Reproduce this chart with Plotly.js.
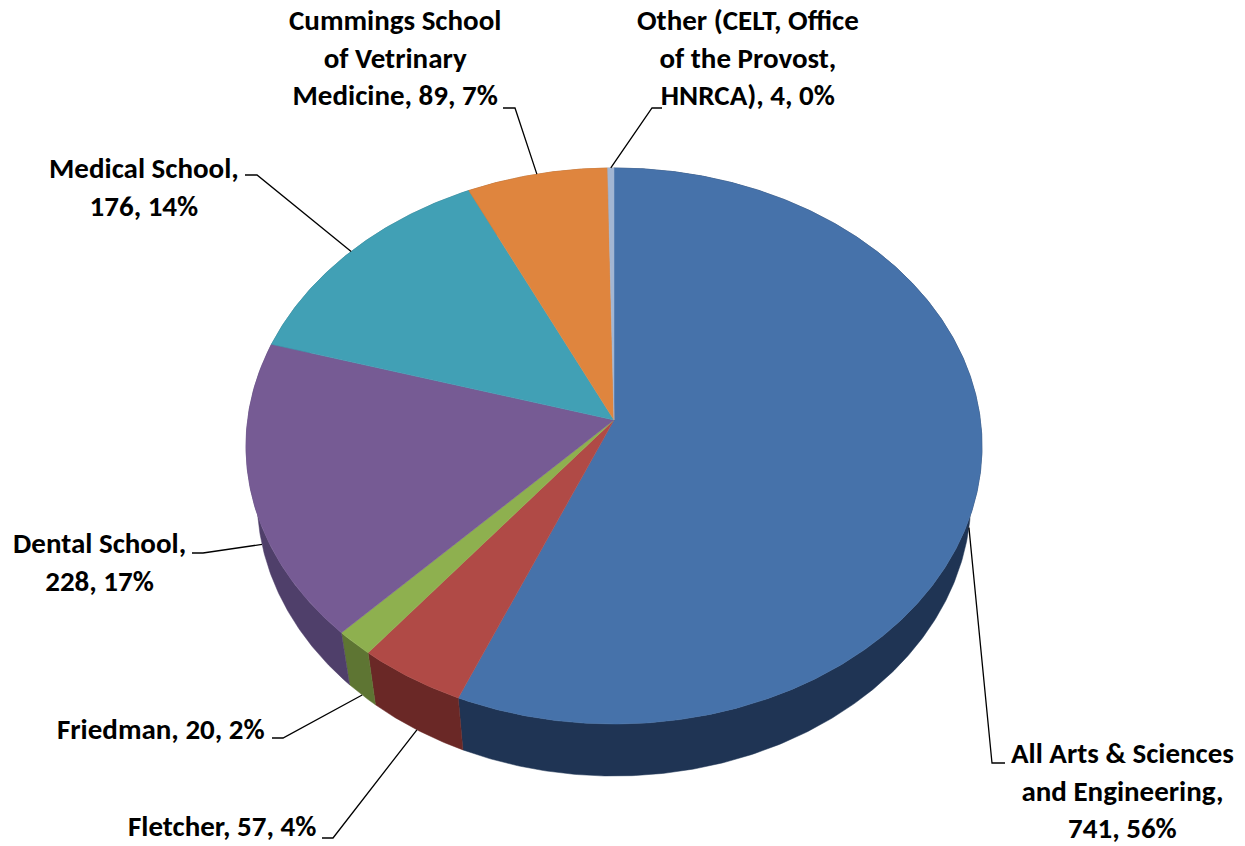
<!DOCTYPE html>
<html><head><meta charset="utf-8">
<script src="https://cdn.plot.ly/plotly-3.0.1.min.js"></script>
<style>html,body{margin:0;padding:0;background:#fff}#chart{width:1245px;height:846px}</style>
</head><body><div id="chart"></div>
<script>
// ---- data ----
const categories = ['All Arts & Sciences and Engineering','Fletcher','Friedman','Dental School','Medical School','Cummings School of Vetrinary Medicine','Other (CELT, Office of the Provost, HNRCA)'];
const values = [741, 57, 20, 228, 176, 89, 4];
const percents = [56, 4, 2, 17, 14, 7, 0];
const labelPrefix = [
  'All Arts & Sciences<br>and Engineering,<br>',
  'Fletcher, ',
  'Friedman, ',
  'Dental School,<br>',
  'Medical School,<br>',
  'Cummings School<br>of Vetrinary<br>Medicine, ',
  'Other (CELT, Office<br>of the Provost,<br>HNRCA), '
];

// ---- style ----
const topColors  = ['#4672AA','#B04A46','#8EB04F','#765B94','#41A0B5','#DF853E','#A3B6D3'];
const sideColors = ['#1F3454','#6A2826','#5E7533','#4F3F6A','#2B6B7A','#9A5A27','#6F7D92'];
const FONT = 'Carlito, Lato, "Open Sans", sans-serif';

// ---- geometry of the tilted pie (layout, pixel units) ----
const CX = 614, CY = 420, A = 366.4, B = 275.6, P = 0.0935, DEPTH = 52, SHRINK = 0.97;
function topPt(deg){const t=deg*Math.PI/180,X=Math.sin(t),Z=Math.cos(t),w=1+P*Z;return [CX+A*X/w, CY-B*Z/w];}
function botPt(deg){const t=deg*Math.PI/180,X=Math.sin(t),Z=Math.cos(t),w=1+P*Z;return [CX+A*SHRINK*X/w, CY+DEPTH-B*Z/w];}
function arc(f,a,b){const n=Math.max(4,Math.ceil(Math.abs(b-a)/0.5));const out=[];for(let i=0;i<=n;i++){out.push(f(a+(b-a)*i/n));}return out;}

// label placement (layout): text centre, leader elbow, leader end
const labelPos = [[1122,790],[222,826],[161,729],[99,562],[144,187],[395,57],[748,57]];
const elbows   = [[992,763],[333,838],[283,738],[203,553],[257,175],[515,108],[652,108]];
const ends     = [[1005,763],[322,838],[272,738],[192,553],[245,175],[503,108],[662,108]];

const total = values.reduce((s,v)=>s+v,0);
const starts = [], stops = [];
let acc = 0;
values.forEach(v=>{starts.push(acc/total*360); acc+=v; stops.push(acc/total*360);});

const traces = [];
// side walls
values.forEach((v,i)=>{
  const pts = arc(topPt,starts[i],stops[i]).concat(arc(botPt,stops[i],starts[i]));
  pts.push(pts[0]);
  traces.push({type:'scatter',mode:'lines',x:pts.map(p=>p[0]),y:pts.map(p=>p[1]),fill:'toself',
    fillcolor:sideColors[i],line:{color:sideColors[i],width:0.5},hoverinfo:'skip',showlegend:false});
});
// top faces
values.forEach((v,i)=>{
  const pts = [[CX,CY]].concat(arc(topPt,starts[i],stops[i]));
  pts.push([CX,CY]);
  traces.push({type:'scatter',mode:'lines',x:pts.map(p=>p[0]),y:pts.map(p=>p[1]),fill:'toself',
    fillcolor:topColors[i],line:{color:topColors[i],width:0.5},name:categories[i],
    text:categories[i]+': '+v, hoveron:'fills', hoverinfo:'text',showlegend:false});
});
// leader lines
values.forEach((v,i)=>{
  const mid=(starts[i]+stops[i])/2;
  const front=Math.cos(mid*Math.PI/180)<0;
  const anchor = front ? botPt(mid) : topPt(mid);
  traces.push({type:'scatter',mode:'lines',x:[anchor[0],elbows[i][0],ends[i][0]],y:[anchor[1],elbows[i][1],ends[i][1]],
    line:{color:'#000',width:1.3},hoverinfo:'skip',showlegend:false});
});

const annotations = values.map((v,i)=>({
  x:labelPos[i][0], y:labelPos[i][1], xref:'x', yref:'y', xanchor:'center', yanchor:'middle', showarrow:false,
  text:'<b>'+labelPrefix[i]+v+', '+percents[i]+'%</b>', align:'center',
  font:{family:FONT,size:29,color:'#000'}
}));

const layout = {
  width:1245, height:846, margin:{l:0,r:0,t:0,b:0},
  paper_bgcolor:'#fff', plot_bgcolor:'#fff',
  xaxis:{range:[0,1245],visible:false,fixedrange:true},
  yaxis:{range:[846,0],visible:false,fixedrange:true},
  showlegend:false, annotations:annotations
};
Plotly.newPlot('chart',traces,layout,{displayModeBar:false,staticPlot:false});
</script></body></html>
